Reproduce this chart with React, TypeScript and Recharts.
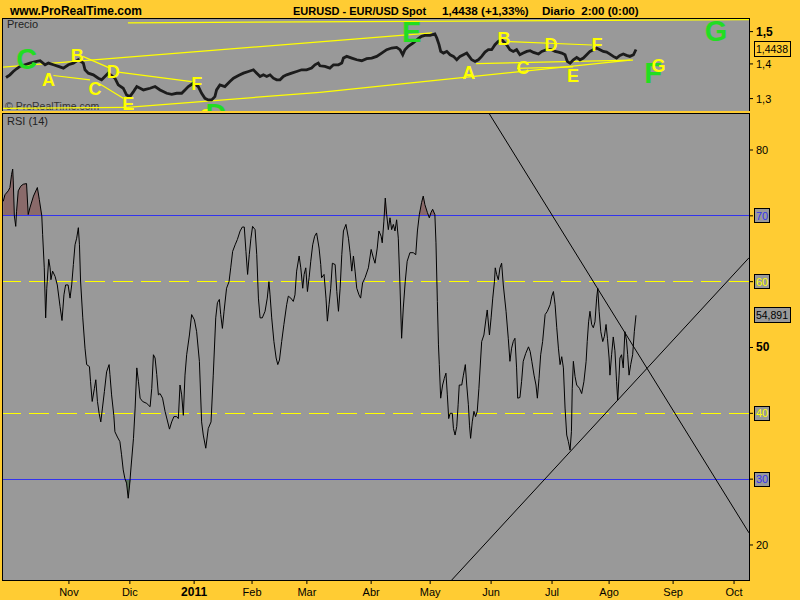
import React from 'react';
import { ComposedChart, Line, Area, XAxis, YAxis, ReferenceLine, ReferenceDot } from 'recharts';

const FONT = '"Liberation Sans", Arial, Helvetica, sans-serif';
const BG = '#FFCC33';
const PANEL = '#999999';
const BLUE = '#3333ee';
const YELLOW = '#ffff00';
const GREEN = '#22dd22';

// x axis: trading-day index from first bar of the window
const X_DOMAIN: [number, number] = [0, 269.3];
const monthTicks = [23.8, 45.8, 69.0, 89.9, 109.7, 132.9, 154.2, 176.2, 198.2, 218.8, 241.9, 263.9];
const monthLabels = ['Nov', 'Dic', '2011', 'Feb', 'Mar', 'Abr', 'May', 'Jun', 'Jul', 'Ago', 'Sep', 'Oct'];

// price panel
const PRICE_DOMAIN: [number, number] = [1.266, 1.541];
const priceTicks = [1.3, 1.4, 1.5];
const priceTickLabels = ['1,3', '1,4', '1,5'];
const lastPrice = 1.4438;
const lastPriceLabel = '1,4438';

const priceDay = [
  1.1, 2.5, 3.7, 4.9, 6.1, 7.9, 9.7, 12.2, 13.4, 15.2, 16.4, 18.2, 20.0, 21.8, 23.6, 25.4, 27.2, 29.0, 29.6, 30.8,
  32.6, 34.4, 35.6, 36.8, 38.0, 40.4, 41.6, 43.4, 44.6, 45.8, 47.1, 48.3, 49.5, 50.7, 53.1, 54.9, 56.7, 59.1, 60.9, 62.7,
  64.5, 65.7, 66.9, 68.7, 70.5, 71.7, 72.9, 74.1, 75.3, 76.5, 77.1, 78.3, 80.1, 81.9, 83.2, 85.0, 86.8, 88.6, 90.4, 91.6,
  92.8, 94.0, 95.2, 96.4, 97.6, 98.8, 100.0, 101.2, 102.4, 104.2, 106.0, 107.8, 109.6, 111.4, 112.6, 113.8,
  114.4, 116.2, 118.0, 119.3, 121.1, 122.3, 122.9, 124.1, 125.9, 127.7, 129.5, 131.3, 133.1, 134.9, 136.7, 138.5, 140.3,
  142.1, 143.3, 144.3, 145.1, 146.3, 148.1, 149.9, 151.1, 152.3, 154.2, 155.9, 156.6, 157.4, 158.0, 159.0, 160.2, 161.4,
  162.6, 163.8, 165.0, 166.2, 167.4, 168.3, 169.2, 170.4, 171.6, 172.8, 174.0, 175.2, 176.4, 177.6, 178.8, 180.0, 181.8,
  183.0, 184.2, 185.4, 186.6, 187.8, 189.1, 190.3, 191.5, 193.3, 194.5, 196.3, 198.1, 199.3, 200.5, 201.7, 202.9, 203.7,
  204.7, 205.9, 207.1, 208.3, 209.5, 210.7, 211.9, 213.1, 214.3, 215.5, 216.7, 217.9, 219.1, 220.3, 221.5, 222.7, 223.9,
  225.1, 226.3, 227.6, 228.5,
];
const priceClose = [
  1.3599, 1.3677, 1.3775, 1.3855, 1.3925, 1.3974, 1.4024, 1.4075, 1.4095, 1.3974, 1.4024, 1.3974, 1.3925, 1.3875, 1.3974,
  1.4024, 1.4125, 1.4024, 1.3825, 1.3726, 1.3677, 1.358, 1.3531, 1.3628, 1.3726, 1.358, 1.3386, 1.3291, 1.3102, 1.3055,
  1.3196, 1.3339, 1.3291, 1.3243, 1.3291, 1.3339, 1.3243, 1.3149, 1.3121, 1.3149, 1.3149, 1.3243, 1.3339, 1.3434, 1.3339,
  1.3149, 1.3008, 1.2962, 1.2962, 1.3055, 1.3243, 1.3386, 1.3339, 1.3483, 1.358, 1.3658, 1.3726, 1.3775, 1.3825, 1.3726,
  1.3628, 1.3677, 1.3628, 1.3677, 1.358, 1.3531, 1.3531, 1.3628, 1.3677, 1.3726, 1.3775, 1.3825, 1.3825, 1.3875, 1.3974,
  1.4024,
  1.3944, 1.3925, 1.3875, 1.3974, 1.3974, 1.4024, 1.4176, 1.4227, 1.4176, 1.4125, 1.4095, 1.4156, 1.4176, 1.4227, 1.4329,
  1.4432, 1.4483, 1.4504, 1.4432, 1.4277, 1.4432, 1.4535, 1.464, 1.4777, 1.4851, 1.4883, 1.4883, 1.4926, 1.4798, 1.4588,
  1.438, 1.4329, 1.438, 1.4277, 1.4227, 1.4125, 1.4227, 1.4277, 1.4329, 1.4227, 1.4125, 1.4075, 1.4125, 1.4227, 1.4359,
  1.4432, 1.4432, 1.4588, 1.4693, 1.4745, 1.4588, 1.4432, 1.438, 1.4432, 1.4277, 1.4329, 1.438, 1.44, 1.4349, 1.4298,
  1.438, 1.4432, 1.4432, 1.438, 1.4359, 1.4329, 1.4277, 1.4075, 1.4024, 1.4125, 1.4196, 1.4125, 1.4176, 1.4277, 1.438,
  1.4432, 1.4483, 1.4432, 1.438, 1.4359, 1.4298, 1.4227, 1.4176, 1.4257, 1.4298, 1.4257, 1.4227, 1.4277, 1.4438,
];

// yellow trend lines drawn on the price panel: [day1, price1, day2, price2]
const priceSegments: number[][] = [
  [45.1, 1.5283, 269.3, 1.539],
  [0, 1.3904, 154.9, 1.4958],
  [28.8, 1.4227, 38.6, 1.3874],
  [41.6, 1.3755, 68.1, 1.3482],
  [18.2, 1.3657, 31.4, 1.3529],
  [35.0, 1.3413, 43.4, 1.3007],
  [0, 1.273, 44.8, 1.2758],
  [44.8, 1.2758, 114.4, 1.3176],
  [114.4, 1.3176, 226.4, 1.4114],
  [183.0, 1.4681, 212.6, 1.4577],
  [170.8, 1.4009, 227.4, 1.4114],
  [185.6, 1.3865, 205.8, 1.3912],
];

// wave letters on the price panel
const letterText = ['C', 'A', 'B', 'C', 'D', 'E', 'F', 'C', 'D', 'E', 'A', 'B', 'C', 'D', 'E', 'F', 'F', 'G', 'G'];
const letterDay = [8.6, 16.4, 26.8, 33.2, 39.8, 45.2, 69.9, 73.3, 76.9, 147.5, 168.1, 180.9, 187.7, 197.8, 205.8, 214.4, 234.7, 236.6, 257.4];
const letterPrice = [1.415, 1.3529, 1.4258, 1.329, 1.3775, 1.2854, 1.3433, 1.254, 1.2583, 1.4984, 1.3731, 1.4789, 1.3883, 1.4599, 1.366, 1.4577, 1.374, 1.3964, 1.5016];
const letterBig = [true, false, false, false, false, false, false, false, true, true, false, false, false, false, false, false, true, false, true];

// RSI panel
const RSI_DOMAIN: [number, number] = [14.68, 85.47];
const rsiTicks = [20, 30, 40, 50, 60, 70, 80];
const OVERBOUGHT = 70;
const OVERSOLD = 30;
const lastRsi = 54.891;
const lastRsiLabel = '54,891';

const rsiDay = [
  0.1, 0.7, 1.9, 2.5, 3.1, 3.5, 3.7, 4.1, 4.6, 4.9, 5.5, 6.4, 7.3, 8.5, 9.1, 9.7, 11.0, 12.4, 13.1, 14.0, 14.3, 14.9, 15.4,
  15.8, 16.5, 17.0, 17.3, 17.9, 18.8, 19.6, 20.6, 21.3, 22.0, 22.6, 23.5, 24.2, 24.8, 25.4, 26.0, 26.6, 27.2, 27.6, 28.0,
  28.8, 29.6, 30.2, 31.2, 31.6, 32.2, 33.0, 33.5, 34.1, 34.7, 35.3, 35.9, 36.6, 37.4, 38.3, 38.6, 39.2, 40.0, 40.4, 41.3,
  42.2, 42.8, 43.4, 44.0, 44.6, 45.2, 45.7, 46.2, 47.1, 47.7, 48.3, 48.9, 49.5, 50.4, 51.9, 53.1, 53.7, 54.3, 54.9, 55.5, 56.1,
  56.7, 57.6, 58.5, 60.1, 60.9, 61.7, 62.7, 63.3, 63.9, 64.5, 65.1, 65.7, 66.3, 67.3, 68.1, 69.1, 69.9, 70.9, 71.7, 72.3,
  73.2, 74.1, 75.1, 75.9, 76.8, 77.4, 78.1, 78.6, 79.2, 79.8, 80.7, 81.6, 82.2, 82.9, 83.8, 84.6, 85.6, 86.4, 87.1, 87.7,
  88.3, 88.9, 89.5, 90.1, 91.0, 91.6, 92.2, 92.8, 93.6, 94.6, 95.4, 96.0, 96.4, 97.0, 97.8, 98.6, 99.2, 99.8, 100.6, 101.4,
  102.4, 103.0, 103.9, 104.8, 105.4, 106.0, 106.9, 107.5, 108.2, 108.7, 109.3, 109.9, 110.5, 111.1, 111.8, 112.5, 113.2,
  114.1, 114.7,
  115.0, 115.9, 116.6, 117.1, 117.7, 118.3, 118.9, 119.9, 120.5, 121.1, 121.7, 122.3, 122.9, 123.8, 124.7, 125.3, 125.9,
  126.5, 127.1, 127.7, 128.5, 129.1, 129.8, 130.7, 131.9, 132.9, 133.7, 134.3, 135.1, 135.7, 136.5, 136.9, 137.5, 138.0,
  138.5, 139.1, 139.7, 140.3, 140.9, 141.5, 142.1, 142.7, 143.3, 143.9, 144.5, 145.2, 145.9, 146.9, 148.1, 149.0, 149.6,
  150.3, 151.1, 151.7, 152.3, 153.2, 153.9, 154.5, 155.1, 155.9, 156.3, 156.8, 157.2, 157.5, 158.0, 158.7, 159.3, 159.9,
  160.4, 160.9, 161.4, 162.2, 162.6, 163.2, 163.8, 164.3, 164.7, 165.6, 166.2, 166.9, 167.4, 168.0, 168.4, 168.8, 169.4,
  170.0, 170.6, 171.2, 171.8,
  172.8, 173.6, 174.4, 174.8, 175.6, 176.2, 176.8, 177.4, 177.7, 178.2, 178.8, 179.4, 180.0, 180.6, 181.6, 182.4, 183.0,
  183.6, 184.2, 184.8, 185.4, 185.8, 186.6, 187.2, 187.8, 188.7, 189.7, 190.3, 190.9, 191.7, 192.4, 192.9, 193.5, 194.1,
  194.8, 195.7, 196.5, 197.5, 198.1, 198.7, 199.3, 199.9, 200.5, 201.1, 201.7, 202.3, 202.9, 203.5, 204.1, 204.7, 205.2,
  205.5, 205.9, 206.5, 207.1, 208.1, 208.9, 209.7, 210.5, 210.9, 211.4, 211.9, 212.5, 213.1, 213.7, 214.3, 214.7, 215.2,
  215.8, 216.5, 217.1, 217.7, 218.2, 218.8, 219.1, 219.7, 220.3, 220.9, 221.5, 221.9, 222.4, 222.7, 223.3, 223.9, 224.5,
  225.1, 225.5, 226.0, 226.6, 227.3, 227.9, 228.5,
];
const rsiValue = [
  72.2, 73.2, 73.8, 74.3, 76.3, 77.1, 75.3, 70, 68.4, 70.7, 73.8, 74.5, 74.8, 74.9, 70.2, 71.2, 73, 74.3, 72.5, 70, 67.2, 62.1,
  54.5, 59, 63.4, 62.1, 60.3, 61.6, 60.8, 59.5, 56.2, 54.1, 58, 59.5, 59.5, 57.5, 59.5, 62.6, 65.6, 66.6, 68.2, 65.6, 60.1,
  54.5, 49.9, 47.4, 47.1, 44.8, 41.8, 43.8, 45.1, 41.8, 40, 38.7, 40.8, 43.3, 46.3, 47.4, 45.9, 42.8, 39.7, 37.2, 36.4, 35.7,
  33.7, 31.4, 30.1, 29.4, 27.1, 29.1, 31.7, 36.2, 40.8, 46.9, 44.8, 42.3, 41.8, 41.5, 41, 43.8, 48.9, 48.4, 45.9, 42.8,
  43, 42.3, 40.3, 37.6, 38.7, 39.5, 39.5, 39.2, 44.3, 42.8, 39.7, 45.8, 48.9, 51.9, 55, 54.2, 52.4, 47.9, 38.7, 36.7,
  34.7, 37.7, 38.7, 45.8, 54.5, 56.8, 57.3, 55, 52.9, 55.5, 59, 60, 62.1, 64.6, 65.6, 66.4, 67.7, 68.3, 68.3, 64.6,
  61.1, 64.1, 66.6, 68.4, 67.9, 64.1, 57.5, 54.5, 54.5, 55.5, 57.5, 60, 58, 54.5, 50.9, 48.4, 47.4, 48.1, 50.9, 53.5,
  56.5, 57.8, 57.5, 57, 58, 61.6, 63.9, 62.1, 59, 61.1, 62.1, 58.5, 60.6, 63.1, 65.6, 66.9, 67.4, 65.1, 62.6,
  60.6, 61.1, 57.5, 54, 56.5, 59, 62.8, 62.6, 58.5, 55.5, 59, 64.1, 67.7, 68.7, 66.6, 64.4, 61.6, 63.9, 61.6, 59,
  58, 57.5, 59.8, 60.6, 62.1, 64.9, 63.6, 62.8, 65.1, 67.7, 66.9, 65.9, 69.2, 72.7, 70.2, 67.9, 69.7, 67.9, 68.7, 67.7,
  69.4, 66.6, 59.5, 51.4, 56, 60, 63.1, 64.4, 64.4, 64.1, 67.7, 70.2, 72, 73, 71.7, 70.5, 69.7, 70.5, 71, 70.2,
  65.9, 57, 50.4, 47.4, 42.3, 44.3, 45.3, 46.1, 42.8, 39.2, 40, 40, 37.7, 36.7, 38, 41.3, 44.3, 44.3, 45.8, 47.4,
  44.3, 41.3, 38.2, 36.2, 38.7, 40.3, 39.5, 40.3, 43.8,
  50.9, 51.9, 54.5, 55.7, 51.9, 54.5, 57.5, 60, 62.1, 61.1, 60.3, 62.1, 62.8, 59.5, 55.5, 51.4, 47.9, 49.9, 50.9, 51.4,
  46.9, 42.3, 42.4, 44.8, 47.9, 49.1, 50.1, 49.4, 47.9, 45.8, 44.3, 42.3, 45.3, 48.9, 50.9, 55, 55.5, 56.5, 57.8, 58.5,
  56.5, 53, 49.9, 47.4, 48.6, 46.9, 40.8, 36.7, 35.7, 34.4, 37.2, 43.8, 47.9, 45.6, 44.3, 43.8, 43, 44.8, 47.9, 50.9,
  53.9, 55.5, 53.5, 53, 53.9, 57.5, 59, 55.5, 52.4, 50.9, 51.7, 53.5, 51.4, 48.4, 45.8, 48.9, 51.6, 49.5, 44.8, 42,
  45.8, 48.4, 48.9, 46.9, 52.4, 51, 48.9, 45.8, 47.4, 48.9, 52.4, 54.891,
];

// black trend lines on the RSI panel
const rsiTrendDown = [{ x: 175.6, y: 85.47 }, { x: 269.3, y: 21.84 }];
const rsiTrendUp = [{ x: 162.0, y: 14.68 }, { x: 269.3, y: 63.63 }];

const priceRows = priceDay.map((d, i) => ({ day: d, price: priceClose[i] }));
const rsiRows = rsiDay.map((d, i) => ({ day: d, rsi: rsiValue[i] }));

const PriceTick = (props: any) => {
  const { x, y, payload } = props;
  const i = priceTicks.indexOf(payload.value);
  const bold = payload.value === 1.5;
  return (
    <text x={x} y={y} dy={4} textAnchor="start" fontFamily={FONT} fontSize={bold ? 12 : 11}
      fontWeight={bold ? 'bold' : 'normal'} fill="#000">{priceTickLabels[i]}</text>
  );
};

const boxedColor: Record<number, string> = { 70: BLUE, 60: YELLOW, 40: YELLOW, 30: BLUE };

const RsiTick = (props: any) => {
  const { x, y, payload } = props;
  const v = payload.value as number;
  const c = boxedColor[v];
  if (c) {
    return (
      <g>
        <rect x={x - 2} y={y - 7} width={15} height={14} fill={PANEL} stroke="#000" strokeWidth={1} shapeRendering="crispEdges" />
        <text x={x} y={y} dy={4} textAnchor="start" fontFamily={FONT} fontSize={11} fill={c}>{String(v)}</text>
      </g>
    );
  }
  const bold = v === 50;
  return (
    <text x={x} y={y} dy={4} textAnchor="start" fontFamily={FONT} fontSize={bold ? 12 : 11}
      fontWeight={bold ? 'bold' : 'normal'} fill="#000">{String(v)}</text>
  );
};

const MonthTick = (props: any) => {
  const { x, y, payload } = props;
  const i = monthTicks.indexOf(payload.value);
  const lbl = monthLabels[i];
  const bold = lbl === '2011';
  return (
    <text x={x} y={y} dy={9} textAnchor="middle" fontFamily={FONT} fontSize={bold ? 12 : 11}
      fontWeight={bold ? 'bold' : 'normal'} fill="#000">{lbl}</text>
  );
};

const ValueBox = (props: any) => {
  const { viewBox, text, fill } = props;
  if (!viewBox) return null;
  const x = viewBox.x + viewBox.width + 5;
  const y = viewBox.y;
  return (
    <g>
      <rect x={x} y={y - 7.5} width={36} height={14.5} fill={fill} stroke="#000" strokeWidth={1} shapeRendering="crispEdges" />
      <text x={x + 18} y={y} dy={4} textAnchor="middle" fontFamily={FONT} fontSize={10.5} fill="#000">{text}</text>
    </g>
  );
};

const abs = (left: number, top: number, extra: React.CSSProperties = {}): React.CSSProperties => ({
  position: 'absolute', left, top, ...extra,
});

export default function App() {
  return (
    <div style={{ position: 'absolute', left: 0, top: 0, width: 800, height: 600, background: BG, overflow: 'hidden', fontFamily: FONT }}>
      {/* title */}
      <div style={abs(10, 4, { fontSize: 12, fontWeight: 'bold', lineHeight: '14px', color: '#000', whiteSpace: 'nowrap' })}>www.ProRealTime.com</div>
      <div style={abs(293, 4, { fontSize: 11, fontWeight: 'bold', lineHeight: '14px', color: '#000', whiteSpace: 'nowrap' })}>EURUSD - EUR/USD Spot</div>
      <div style={abs(442, 4, { fontSize: 11.7, fontWeight: 'bold', lineHeight: '14px', color: '#000', whiteSpace: 'nowrap' })}>1,4438 (+1,33%)</div>
      <div style={abs(542, 4, { fontSize: 11.6, fontWeight: 'bold', lineHeight: '14px', color: '#000', whiteSpace: 'pre' })}>Diario  2:00 (0:00)</div>

      {/* price panel */}
      <div style={abs(2, 18, { width: 746, height: 92, border: '1px solid #000', background: PANEL })} />
      <div style={abs(7, 18, { fontSize: 11, lineHeight: '12px', color: '#222' })}>Precio</div>
      <div style={abs(5, 99.5, { fontSize: 10.5, lineHeight: '12px', color: '#333', whiteSpace: 'nowrap' })}>© ProRealTime.com</div>
      <div style={abs(0, 0)}>
        <ComposedChart width={800} height={120} data={priceRows} margin={{ top: 19, right: 6, bottom: 9, left: 3 }}>
          <XAxis type="number" dataKey="day" domain={X_DOMAIN} hide allowDataOverflow />
          <YAxis orientation="right" width={45} scale="log" domain={PRICE_DOMAIN} ticks={priceTicks} interval={0}
            allowDataOverflow axisLine={false} tickSize={4} tickMargin={3} tickLine={{ stroke: '#000' }} tick={<PriceTick />} />
          {priceSegments.map((s, i) => (
            <ReferenceLine key={'s' + i} segment={[{ x: s[0], y: s[1] }, { x: s[2], y: s[3] }]}
              stroke={YELLOW} strokeWidth={1.2} ifOverflow="hidden" />
          ))}
          <Line type="linear" dataKey="price" stroke="#1c1c1c" strokeWidth={2.8} dot={false} isAnimationActive={false} />
          {letterText.map((t, i) => (
            <ReferenceDot key={'l' + i} x={letterDay[i]} y={letterPrice[i]} r={0} fill="none" stroke="none" ifOverflow="hidden"
              label={{ value: t, position: 'center', fill: letterBig[i] ? GREEN : YELLOW, fontSize: letterBig[i] ? 29 : 18, fontWeight: 'bold', fontFamily: FONT }} />
          ))}
          <ReferenceLine y={lastPrice} stroke="none" label={<ValueBox text={lastPriceLabel} fill={BG} />} />
        </ComposedChart>
      </div>
      {/* gap strip between the two panels (clips letters that run past the price panel) */}
      <div style={abs(0, 111, { width: 800, height: 2, background: BG })} />

      {/* RSI panel */}
      <div style={abs(2, 113, { width: 746, height: 466, border: '1px solid #000', background: PANEL })} />
      <div style={abs(7, 115, { fontSize: 11, lineHeight: '12px', color: '#222' })}>RSI (14)</div>
      <div style={abs(0, 0)}>
        <ComposedChart width={800} height={600} data={rsiRows} margin={{ top: 114, right: 6, bottom: 0, left: 3 }}>
          <XAxis type="number" dataKey="day" domain={X_DOMAIN} ticks={monthTicks} interval={0} height={20} allowDataOverflow
            tickSize={4} tickMargin={3} axisLine={false} tickLine={{ stroke: '#000' }} tick={<MonthTick />} />
          <YAxis orientation="right" width={45} domain={RSI_DOMAIN} ticks={rsiTicks} interval={0} allowDataOverflow
            axisLine={false} tickSize={4} tickMargin={3} tickLine={{ stroke: '#000' }} tick={<RsiTick />} />
          <Area type="linear" dataKey={(d: any) => [OVERBOUGHT, Math.max(OVERBOUGHT, d.rsi)]} stroke="none"
            fill="#8a6a6a" fillOpacity={1} isAnimationActive={false} />
          <Area type="linear" dataKey={(d: any) => [Math.min(OVERSOLD, d.rsi), OVERSOLD]} stroke="none"
            fill="#5e745e" fillOpacity={1} isAnimationActive={false} />
          <ReferenceLine y={OVERBOUGHT} stroke={BLUE} strokeWidth={1} shapeRendering="crispEdges" />
          <ReferenceLine y={OVERSOLD} stroke={BLUE} strokeWidth={1} shapeRendering="crispEdges" />
          <ReferenceLine y={60} stroke={YELLOW} strokeWidth={1} strokeDasharray="20 8" shapeRendering="crispEdges" />
          <ReferenceLine y={40} stroke={YELLOW} strokeWidth={1} strokeDasharray="20 8" shapeRendering="crispEdges" />
          <Line type="linear" dataKey="rsi" stroke="#000" strokeWidth={1} dot={false} isAnimationActive={false} />
          <ReferenceLine segment={rsiTrendDown} stroke="#000" strokeWidth={1} ifOverflow="hidden" />
          <ReferenceLine segment={rsiTrendUp} stroke="#000" strokeWidth={1} ifOverflow="hidden" />
          <ReferenceLine y={lastRsi} stroke="none" label={<ValueBox text={lastRsiLabel} fill={PANEL} />} />
        </ComposedChart>
      </div>
    </div>
  );
}
